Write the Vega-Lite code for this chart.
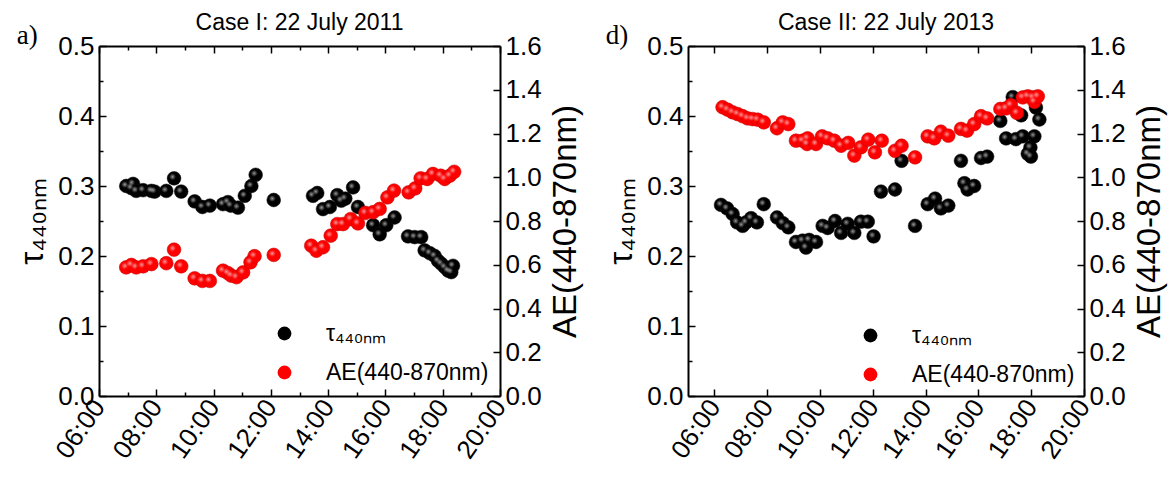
{
  "$schema": "https://vega.github.io/schema/vega-lite/v6.json",
  "background": "white",
  "padding": {"left": 16, "top": 12, "right": 2, "bottom": 2},
  "config": {
    "view": {"stroke": null},
    "font": "Liberation Sans",
    "axis": {
      "grid": false,
      "domainColor": "black",
      "domainWidth": 2,
      "tickColor": "black",
      "tickWidth": 1.5,
      "labelFont": "Liberation Sans",
      "labelFontSize": 26,
      "labelColor": "black",
      "titleFont": "Liberation Sans",
      "titleFontSize": 33,
      "titleFontWeight": "normal",
      "titleColor": "black"
    },
    "legend": {
      "labelFont": "Liberation Sans",
      "labelFontSize": 23,
      "labelColor": "black",
      "labelLimit": 400,
      "symbolSize": 190,
      "symbolType": "circle",
      "symbolStrokeWidth": 0,
      "rowPadding": 15,
      "labelOffset": 30
    },
    "title": {"font": "Liberation Sans", "fontSize": 23, "fontWeight": "normal", "color": "black"}
  },
  "datasets": {
    "aTau": [
      {"h": 6.95, "v": 0.300}, {"h": 7.13, "v": 0.297}, {"h": 7.19, "v": 0.303}, {"h": 7.30, "v": 0.293}, {"h": 7.54, "v": 0.294}, {"h": 7.83, "v": 0.293}, {"h": 7.94, "v": 0.292}, {"h": 8.35, "v": 0.293}, {"h": 8.62, "v": 0.311}, {"h": 8.87, "v": 0.292}, {"h": 9.34, "v": 0.278}, {"h": 9.61, "v": 0.270}, {"h": 9.87, "v": 0.272}, {"h": 10.33, "v": 0.274}, {"h": 10.50, "v": 0.277}, {"h": 10.60, "v": 0.272}, {"h": 10.85, "v": 0.269}, {"h": 11.09, "v": 0.286}, {"h": 11.32, "v": 0.300}, {"h": 11.47, "v": 0.316}, {"h": 12.10, "v": 0.280},
      {"h": 13.47, "v": 0.286}, {"h": 13.62, "v": 0.290}, {"h": 13.82, "v": 0.267}, {"h": 14.06, "v": 0.270}, {"h": 14.32, "v": 0.287}, {"h": 14.46, "v": 0.279}, {"h": 14.60, "v": 0.282}, {"h": 14.87, "v": 0.298}, {"h": 15.04, "v": 0.270}, {"h": 15.57, "v": 0.244}, {"h": 15.80, "v": 0.231}, {"h": 16.03, "v": 0.244}, {"h": 16.32, "v": 0.255}, {"h": 16.79, "v": 0.228}, {"h": 17.02, "v": 0.227}, {"h": 17.25, "v": 0.227}, {"h": 17.37, "v": 0.208}, {"h": 17.55, "v": 0.204}, {"h": 17.72, "v": 0.200}, {"h": 17.84, "v": 0.193}, {"h": 17.95, "v": 0.189}, {"h": 18.07, "v": 0.184}, {"h": 18.19, "v": 0.179}, {"h": 18.30, "v": 0.177}, {"h": 18.36, "v": 0.186}
    ],
    "aAe": [
      {"h": 6.95, "v": 0.588}, {"h": 7.13, "v": 0.599}, {"h": 7.30, "v": 0.588}, {"h": 7.54, "v": 0.593}, {"h": 7.83, "v": 0.603}, {"h": 8.35, "v": 0.607}, {"h": 8.62, "v": 0.669}, {"h": 8.87, "v": 0.593}, {"h": 9.34, "v": 0.538}, {"h": 9.61, "v": 0.526}, {"h": 9.87, "v": 0.526}, {"h": 10.33, "v": 0.573}, {"h": 10.50, "v": 0.562}, {"h": 10.62, "v": 0.550}, {"h": 10.80, "v": 0.543}, {"h": 11.03, "v": 0.565}, {"h": 11.29, "v": 0.611}, {"h": 11.43, "v": 0.639}, {"h": 12.10, "v": 0.645},
      {"h": 13.41, "v": 0.687}, {"h": 13.59, "v": 0.664}, {"h": 13.82, "v": 0.680}, {"h": 14.09, "v": 0.733}, {"h": 14.32, "v": 0.786}, {"h": 14.52, "v": 0.786}, {"h": 14.79, "v": 0.809}, {"h": 15.04, "v": 0.789}, {"h": 15.30, "v": 0.837}, {"h": 15.57, "v": 0.840}, {"h": 15.80, "v": 0.855}, {"h": 16.07, "v": 0.908}, {"h": 16.30, "v": 0.939}, {"h": 16.81, "v": 0.931}, {"h": 17.04, "v": 0.949}, {"h": 17.23, "v": 0.995}, {"h": 17.46, "v": 0.992}, {"h": 17.66, "v": 1.015}, {"h": 17.93, "v": 1.007}, {"h": 18.07, "v": 0.992}, {"h": 18.25, "v": 1.007}, {"h": 18.40, "v": 1.025}
    ],
    "dTau": [
      {"h": 6.25, "v": 0.273}, {"h": 6.48, "v": 0.268}, {"h": 6.69, "v": 0.260}, {"h": 6.86, "v": 0.248}, {"h": 7.07, "v": 0.243}, {"h": 7.20, "v": 0.248}, {"h": 7.39, "v": 0.254}, {"h": 7.61, "v": 0.248}, {"h": 7.87, "v": 0.274}, {"h": 8.37, "v": 0.255}, {"h": 8.59, "v": 0.247}, {"h": 8.80, "v": 0.241}, {"h": 9.09, "v": 0.220}, {"h": 9.34, "v": 0.222}, {"h": 9.47, "v": 0.212}, {"h": 9.59, "v": 0.223}, {"h": 9.85, "v": 0.220}, {"h": 10.10, "v": 0.243}, {"h": 10.29, "v": 0.240}, {"h": 10.57, "v": 0.250}, {"h": 10.80, "v": 0.233}, {"h": 11.05, "v": 0.246}, {"h": 11.30, "v": 0.233}, {"h": 11.55, "v": 0.249}, {"h": 11.81, "v": 0.249}, {"h": 12.03, "v": 0.228}, {"h": 12.31, "v": 0.292}, {"h": 12.84, "v": 0.295}, {"h": 13.09, "v": 0.336}, {"h": 13.60, "v": 0.243}, {"h": 14.08, "v": 0.274}, {"h": 14.36, "v": 0.282}, {"h": 14.58, "v": 0.268}, {"h": 14.86, "v": 0.272}, {"h": 15.34, "v": 0.336}, {"h": 15.47, "v": 0.304}, {"h": 15.59, "v": 0.295}, {"h": 15.84, "v": 0.300}, {"h": 16.10, "v": 0.340}, {"h": 16.33, "v": 0.342}, {"h": 16.83, "v": 0.393}, {"h": 17.05, "v": 0.368}, {"h": 17.30, "v": 0.427}, {"h": 17.42, "v": 0.367}, {"h": 17.62, "v": 0.401}, {"h": 17.68, "v": 0.371}, {"h": 17.87, "v": 0.346}, {"h": 17.97, "v": 0.355}, {"h": 17.99, "v": 0.342}, {"h": 18.12, "v": 0.371}, {"h": 18.18, "v": 0.412}, {"h": 18.31, "v": 0.395}
    ],
    "dAe": [
      {"h": 6.31, "v": 1.320}, {"h": 6.50, "v": 1.309}, {"h": 6.69, "v": 1.297}, {"h": 6.88, "v": 1.289}, {"h": 7.07, "v": 1.279}, {"h": 7.26, "v": 1.269}, {"h": 7.45, "v": 1.266}, {"h": 7.64, "v": 1.263}, {"h": 7.87, "v": 1.251}, {"h": 8.37, "v": 1.224}, {"h": 8.59, "v": 1.251}, {"h": 8.80, "v": 1.243}, {"h": 9.09, "v": 1.167}, {"h": 9.34, "v": 1.167}, {"h": 9.51, "v": 1.152}, {"h": 9.53, "v": 1.178}, {"h": 9.85, "v": 1.152}, {"h": 10.08, "v": 1.187}, {"h": 10.29, "v": 1.178}, {"h": 10.54, "v": 1.167}, {"h": 10.80, "v": 1.144}, {"h": 11.07, "v": 1.157}, {"h": 11.30, "v": 1.099}, {"h": 11.55, "v": 1.137}, {"h": 11.83, "v": 1.172}, {"h": 12.08, "v": 1.114}, {"h": 12.34, "v": 1.167}, {"h": 12.84, "v": 1.121}, {"h": 13.09, "v": 1.144}, {"h": 13.60, "v": 1.091}, {"h": 14.08, "v": 1.187}, {"h": 14.33, "v": 1.178}, {"h": 14.58, "v": 1.208}, {"h": 14.86, "v": 1.190}, {"h": 15.34, "v": 1.221}, {"h": 15.57, "v": 1.213}, {"h": 15.84, "v": 1.243}, {"h": 16.10, "v": 1.279}, {"h": 16.33, "v": 1.269}, {"h": 16.83, "v": 1.312}, {"h": 17.05, "v": 1.315}, {"h": 17.23, "v": 1.330}, {"h": 17.46, "v": 1.294}, {"h": 17.68, "v": 1.365}, {"h": 17.87, "v": 1.370}, {"h": 18.06, "v": 1.365}, {"h": 18.12, "v": 1.345}, {"h": 18.25, "v": 1.370}
    ]
  },
  "spacing": 22,
  "resolve": {"scale": {"color": "independent"}, "legend": {"color": "independent"}},
  "hconcat": [
    {
      "title": {"text": "a)", "anchor": "start", "frame": "bounds", "font": "Liberation Serif", "fontSize": 27, "offset": -38},
      "resolve": {"scale": {"color": "independent"}, "legend": {"color": "independent"}},
      "vconcat": [
        {
          "title": {"text": "Case I: 22 July 2011", "anchor": "middle", "frame": "group", "offset": -2},
          "width": 401,
          "height": 350,
          "layer": [
            {
              "data": {"name": "aTau"},
              "mark": {"type": "point", "filled": true, "size": 190, "opacity": 1, "stroke": "#111", "strokeWidth": 0.5},
              "encoding": {
                "x": {"field": "h", "type": "quantitative", "scale": {"domain": [6, 20], "nice": false, "zero": false},
                  "axis": {"orient": "bottom", "title": null, "tickValues": [6,7,8,9,10,11,12,13,14,15,16,17,18,19,20],
                    "labelExpr": "datum.value % 2 == 0 ? (datum.value < 10 ? '0' : '') + datum.value + ':00' : ''",
                    "labelAngle": -55, "labelAlign": "right", "labelBaseline": "middle", "labelPadding": 13, "labelBound": false, "labelOverlap": false,
                    "tickSize": {"condition": {"test": "datum.value % 2 == 1", "value": -4}, "value": -7}}},
                "y": {"field": "v", "type": "quantitative", "scale": {"domain": [0, 0.5], "nice": false},
                  "axis": {"orient": "left", "title": "τ₄₄₀ₙₘ", "titlePadding": 8,
                    "tickValues": [0,0.05,0.1,0.15,0.2,0.25,0.3,0.35,0.4,0.45,0.5],
                    "labelExpr": "abs(datum.value*10 - round(datum.value*10)) < 0.001 ? format(datum.value, '.1f') : ''",
                    "labelPadding": 12, "labelOverlap": false, "labelBound": false,
                    "tickSize": {"condition": {"test": "abs(datum.value*10 - round(datum.value*10)) > 0.001", "value": -4}, "value": -7}}},
                "color": {"datum": "τ₄₄₀ₙₘ", "type": "nominal", "scale": {"domain": ["τ₄₄₀ₙₘ", "AE(440-870nm)"], "range": ["black", "red"]},
                  "legend": {"title": null, "orient": "bottom-right", "offset": 11}}
              }
            },
            {
              "data": {"name": "aTau"},
              "mark": {"type": "point", "filled": true, "size": 45, "xOffset": -1.5, "yOffset": -1.5,
                "fill": {"gradient": "radial", "x1": 0.5, "y1": 0.5, "x2": 0.5, "y2": 0.5, "r1": 0, "r2": 0.5,
                  "stops": [{"offset": 0, "color": "rgba(255,255,255,0.85)"}, {"offset": 1, "color": "rgba(255,255,255,0)"}]}},
              "encoding": {
                "x": {"field": "h", "type": "quantitative", "scale": {"domain": [6, 20], "nice": false, "zero": false}, "axis": null},
                "y": {"field": "v", "type": "quantitative", "scale": {"domain": [0, 0.5], "nice": false}, "axis": null}
              }
            },
            {
              "data": {"name": "aAe"},
              "mark": {"type": "point", "filled": true, "size": 190, "opacity": 1, "stroke": "#c00000", "strokeWidth": 0.5},
              "encoding": {
                "x": {"field": "h", "type": "quantitative", "scale": {"domain": [6, 20], "nice": false, "zero": false},
                  "axis": {"orient": "top", "title": null, "labels": false, "tickValues": [6,7,8,9,10,11,12,13,14,15,16,17,18,19,20],
                    "tickSize": {"condition": {"test": "datum.value % 2 == 1", "value": -4}, "value": -7}}},
                "y": {"field": "v", "type": "quantitative", "scale": {"domain": [0, 1.6], "nice": false},
                  "axis": {"orient": "right", "title": "AE(440-870nm)", "titleAngle": 270, "titleBaseline": "top", "titlePadding": 8,
                    "tickValues": [0,0.1,0.2,0.3,0.4,0.5,0.6,0.7,0.8,0.9,1.0,1.1,1.2,1.3,1.4,1.5,1.6],
                    "labelExpr": "abs(datum.value*5 - round(datum.value*5)) < 0.001 ? format(datum.value, '.1f') : ''",
                    "labelPadding": 12, "labelOverlap": false, "labelBound": false,
                    "tickSize": {"condition": {"test": "abs(datum.value*5 - round(datum.value*5)) > 0.001", "value": -4}, "value": -7}}},
                "color": {"datum": "AE(440-870nm)", "type": "nominal"}
              }
            },
            {
              "data": {"name": "aAe"},
              "mark": {"type": "point", "filled": true, "size": 45, "xOffset": -1.5, "yOffset": -1.5,
                "fill": {"gradient": "radial", "x1": 0.5, "y1": 0.5, "x2": 0.5, "y2": 0.5, "r1": 0, "r2": 0.5,
                  "stops": [{"offset": 0, "color": "rgba(255,255,255,0.85)"}, {"offset": 1, "color": "rgba(255,255,255,0)"}]}},
              "encoding": {
                "x": {"field": "h", "type": "quantitative", "scale": {"domain": [6, 20], "nice": false, "zero": false}, "axis": null},
                "y": {"field": "v", "type": "quantitative", "scale": {"domain": [0, 1.6], "nice": false}, "axis": null}
              }
            }
          ],
          "resolve": {"scale": {"x": "independent", "y": "independent"}}
        }
      ]
    },
    {
      "title": {"text": "d)", "anchor": "start", "frame": "bounds", "font": "Liberation Serif", "fontSize": 27, "offset": -38},
      "resolve": {"scale": {"color": "independent"}, "legend": {"color": "independent"}},
      "vconcat": [
        {
          "title": {"text": "Case II: 22 July 2013", "anchor": "middle", "frame": "group", "offset": -2},
          "width": 396,
          "height": 350,
          "layer": [
            {
              "data": {"name": "dTau"},
              "mark": {"type": "point", "filled": true, "size": 190, "opacity": 1, "stroke": "#111", "strokeWidth": 0.5},
              "encoding": {
                "x": {"field": "h", "type": "quantitative", "scale": {"domain": [5, 20], "nice": false, "zero": false},
                  "axis": {"orient": "bottom", "title": null, "tickValues": [5,6,7,8,9,10,11,12,13,14,15,16,17,18,19,20],
                    "labelExpr": "datum.value % 2 == 0 ? (datum.value < 10 ? '0' : '') + datum.value + ':00' : ''",
                    "labelAngle": -55, "labelAlign": "right", "labelBaseline": "middle", "labelPadding": 13, "labelBound": false, "labelOverlap": false,
                    "tickSize": {"condition": {"test": "datum.value % 2 == 1", "value": -4}, "value": -7}}},
                "y": {"field": "v", "type": "quantitative", "scale": {"domain": [0, 0.5], "nice": false},
                  "axis": {"orient": "left", "title": "τ₄₄₀ₙₘ", "titlePadding": 8,
                    "tickValues": [0,0.05,0.1,0.15,0.2,0.25,0.3,0.35,0.4,0.45,0.5],
                    "labelExpr": "abs(datum.value*10 - round(datum.value*10)) < 0.001 ? format(datum.value, '.1f') : ''",
                    "labelPadding": 12, "labelOverlap": false, "labelBound": false,
                    "tickSize": {"condition": {"test": "abs(datum.value*10 - round(datum.value*10)) > 0.001", "value": -4}, "value": -7}}},
                "color": {"datum": "τ₄₄₀ₙₘ", "type": "nominal", "scale": {"domain": ["τ₄₄₀ₙₘ", "AE(440-870nm)"], "range": ["black", "red"]},
                  "legend": {"title": null, "orient": "bottom-right", "offset": 9}}
              }
            },
            {
              "data": {"name": "dTau"},
              "mark": {"type": "point", "filled": true, "size": 45, "xOffset": -1.5, "yOffset": -1.5,
                "fill": {"gradient": "radial", "x1": 0.5, "y1": 0.5, "x2": 0.5, "y2": 0.5, "r1": 0, "r2": 0.5,
                  "stops": [{"offset": 0, "color": "rgba(255,255,255,0.85)"}, {"offset": 1, "color": "rgba(255,255,255,0)"}]}},
              "encoding": {
                "x": {"field": "h", "type": "quantitative", "scale": {"domain": [5, 20], "nice": false, "zero": false}, "axis": null},
                "y": {"field": "v", "type": "quantitative", "scale": {"domain": [0, 0.5], "nice": false}, "axis": null}
              }
            },
            {
              "data": {"name": "dAe"},
              "mark": {"type": "point", "filled": true, "size": 190, "opacity": 1, "stroke": "#c00000", "strokeWidth": 0.5},
              "encoding": {
                "x": {"field": "h", "type": "quantitative", "scale": {"domain": [5, 20], "nice": false, "zero": false},
                  "axis": {"orient": "top", "title": null, "labels": false, "tickValues": [5,6,7,8,9,10,11,12,13,14,15,16,17,18,19,20],
                    "tickSize": {"condition": {"test": "datum.value % 2 == 1", "value": -4}, "value": -7}}},
                "y": {"field": "v", "type": "quantitative", "scale": {"domain": [0, 1.6], "nice": false},
                  "axis": {"orient": "right", "title": "AE(440-870nm)", "titleAngle": 270, "titleBaseline": "top", "titlePadding": 8,
                    "tickValues": [0,0.1,0.2,0.3,0.4,0.5,0.6,0.7,0.8,0.9,1.0,1.1,1.2,1.3,1.4,1.5,1.6],
                    "labelExpr": "abs(datum.value*5 - round(datum.value*5)) < 0.001 ? format(datum.value, '.1f') : ''",
                    "labelPadding": 12, "labelOverlap": false, "labelBound": false,
                    "tickSize": {"condition": {"test": "abs(datum.value*5 - round(datum.value*5)) > 0.001", "value": -4}, "value": -7}}},
                "color": {"datum": "AE(440-870nm)", "type": "nominal"}
              }
            },
            {
              "data": {"name": "dAe"},
              "mark": {"type": "point", "filled": true, "size": 45, "xOffset": -1.5, "yOffset": -1.5,
                "fill": {"gradient": "radial", "x1": 0.5, "y1": 0.5, "x2": 0.5, "y2": 0.5, "r1": 0, "r2": 0.5,
                  "stops": [{"offset": 0, "color": "rgba(255,255,255,0.85)"}, {"offset": 1, "color": "rgba(255,255,255,0)"}]}},
              "encoding": {
                "x": {"field": "h", "type": "quantitative", "scale": {"domain": [5, 20], "nice": false, "zero": false}, "axis": null},
                "y": {"field": "v", "type": "quantitative", "scale": {"domain": [0, 1.6], "nice": false}, "axis": null}
              }
            }
          ],
          "resolve": {"scale": {"x": "independent", "y": "independent"}}
        }
      ]
    }
  ]
}
